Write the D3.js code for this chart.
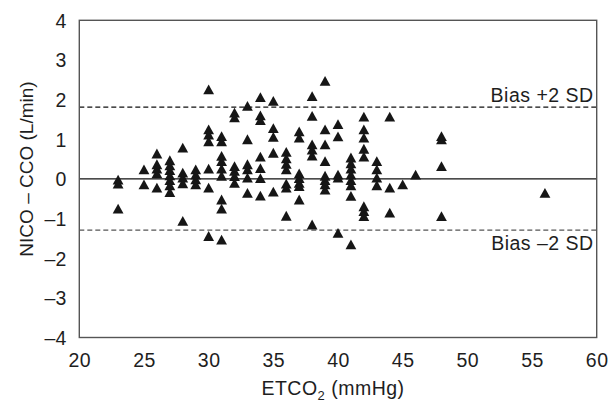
<!DOCTYPE html>
<html>
<head>
<meta charset="utf-8">
<script src="https://cdn.jsdelivr.net/npm/d3@7/dist/d3.min.js"></script>
<style>
  html, body { margin: 0; padding: 0; background: #fff; }
  svg text { font-family: "Liberation Sans", Arial, Helvetica, sans-serif; fill: #1e1e1e; }
</style>
</head>
<body>
<svg id="chart" width="609" height="402"></svg>
<script>
// ETCO2 (mmHg) and NICO - CCO difference (L/min)
const etco2 = [
  23, 23, 23,
  25, 25,
  26, 26, 26, 26, 26,
  27, 27, 27, 27, 27, 27, 27,
  28, 28, 28, 28, 28,
  29, 29, 29, 29,
  30, 30, 30, 30, 30, 30, 30,
  31, 31, 31, 31, 31, 31, 31, 31, 31,
  32, 32, 32, 32, 32, 32,
  33, 33, 33, 33, 33, 33,
  34, 34, 34, 34, 34, 34, 34,
  35, 35, 35, 35, 35,
  36, 36, 36, 36, 36, 36, 36,
  37, 37, 37, 37, 37, 37, 37,
  38, 38, 38, 38, 38, 38,
  39, 39, 39, 39, 39, 39, 39, 39,
  40, 40, 40, 40, 40,
  41, 41, 41, 41, 41, 41, 41, 41,
  42, 42, 42, 42, 42, 42, 42, 42,
  43, 43, 43, 43,
  44, 44, 44,
  45,
  46,
  48, 48, 48, 48,
  56
];
const diff = [
  -0.02, -0.12, -0.75,
  0.24, -0.14,
  0.64, 0.37, 0.26, 0.14, -0.22,
  0.47, 0.34, 0.22, 0.09, -0.03, -0.16, -0.33,
  0.79, 0.16, 0.03, -0.11, -1.06,
  0.24, 0.11, -0.01, -0.14,
  2.26, 1.25, 1.12, 0.95, 0.26, -0.22, -1.44,
  1.08, 0.95, 0.58, 0.45, 0.26, 0.08, -0.52, -0.75, -1.53,
  1.67, 1.55, 0.32, 0.20, 0.07, -0.10,
  1.84, 1.00, 0.37, 0.24, 0.03, -0.35,
  2.06, 1.60, 1.48, 0.56, 0.27, 0.02, -0.42,
  1.97, 1.28, 1.06, 0.66, -0.32,
  0.68, 0.52, 0.38, 0.24, -0.12, -0.22, -0.93,
  1.20, 1.04, 0.14, 0.02, -0.10, -0.18, -0.52,
  2.09, 1.59, 0.87, 0.74, 0.59, -1.15,
  2.47, 1.25, 0.87, 0.45, 0.08, -0.03, -0.14, -0.27,
  1.38, 1.07, 0.11, 0.03, -1.36,
  0.54, 0.39, 0.26, 0.11, -0.03, -0.16, -0.43, -1.65,
  1.57, 1.25, 1.04, 0.76, 0.56, -0.69, -0.81, -0.94,
  0.45, 0.24, 0.03, -0.16,
  1.57, -0.22, -0.85,
  -0.14,
  0.11,
  1.08, 1.00, 0.32, -0.94,
  -0.35
];
const xTicks = [20, 25, 30, 35, 40, 45, 50, 55, 60];
const yTicks = [-4, -3, -2, -1, 0, 1, 2, 3, 4];
const limitValues = [1.81, -1.29];
const limitLabels = ["Bias +2 SD", "Bias \u20132 SD"];

const svg = d3.select("#chart");
const pLeft = 79.3, pRight = 596.7, pTop = 20.3, pBottom = 337.5;

const x = d3.scaleLinear().domain([20, 60]).range([pLeft, pRight]);
const y = d3.scaleLinear().domain([-4, 4]).range([pBottom, pTop]);
const fmt = d => d < 0 ? "\u2013" + Math.abs(d) : String(d);

// zero line
svg.append("line")
  .attr("x1", pLeft).attr("x2", pRight)
  .attr("y1", y(0)).attr("y2", y(0))
  .attr("stroke", "#111").attr("stroke-width", 1.2);

// bias ±2 SD lines
svg.selectAll(".limit").data(limitValues).join("line")
  .attr("class", "limit")
  .attr("x1", pLeft).attr("x2", pRight)
  .attr("y1", d => y(d)).attr("y2", d => y(d))
  .attr("stroke", (d, i) => i === 0 ? "#111" : "#555")
  .attr("stroke-width", 1.2)
  .attr("stroke-dasharray", "5,3");

svg.selectAll(".limitLabel").data(limitValues).join("text")
  .attr("class", "limitLabel")
  .attr("x", pRight - 3)
  .attr("y", (d, i) => i === 0 ? y(d) - 5.6 : y(d) + 20)
  .attr("text-anchor", "end")
  .style("font-size", "19.5px")
  .style("letter-spacing", "0.5px")
  .text((d, i) => limitLabels[i]);

// points
const w = 10.8, h = 9.8;
svg.append("g").selectAll("path").data(etco2.map((e, i) => [e, diff[i]])).join("path")
  .attr("d", `M0,${-h / 2}L${w / 2},${h / 2}L${-w / 2},${h / 2}Z`)
  .attr("transform", d => `translate(${x(d[0])},${y(d[1])})`)
  .attr("fill", "#161616");

// axes
const gx = svg.append("g")
  .attr("transform", `translate(0,${pBottom})`)
  .call(d3.axisBottom(x).tickValues(xTicks).tickSize(0).tickFormat(fmt));
gx.select(".domain").remove();
gx.selectAll("text")
  .attr("y", 29.2).attr("dy", null)
  .style("font-size", "19.5px").style("letter-spacing", "0.5px")
  .attr("fill", "#1e1e1e");

const gy = svg.append("g")
  .attr("transform", `translate(${pLeft},0)`)
  .call(d3.axisLeft(y).tickValues(yTicks).tickSize(0).tickFormat(fmt));
gy.select(".domain").remove();
gy.selectAll("text")
  .attr("x", -12.6).attr("dy", "0.36em")
  .style("font-size", "19.5px").style("letter-spacing", "0.3px")
  .attr("fill", "#1e1e1e");

// frame
svg.append("rect")
  .attr("x", pLeft).attr("y", pTop)
  .attr("width", pRight - pLeft).attr("height", pBottom - pTop)
  .attr("fill", "none").attr("stroke", "#555").attr("stroke-width", 1.4);

// axis titles
const xt = svg.append("text")
  .attr("x", 333).attr("y", 395)
  .attr("text-anchor", "middle")
  .style("font-size", "19.5px").style("letter-spacing", "0.5px");
xt.append("tspan").text("ETCO");
xt.append("tspan").attr("dy", 5).style("font-size", "13px").text("2");
xt.append("tspan").attr("dy", -5).text(" (mmHg)");

svg.append("text")
  .attr("transform", `translate(33,169) rotate(-90)`)
  .attr("text-anchor", "middle")
  .style("font-size", "19px")
  .text("NICO \u2013 CCO (L/min)");
</script>
</body>
</html>
